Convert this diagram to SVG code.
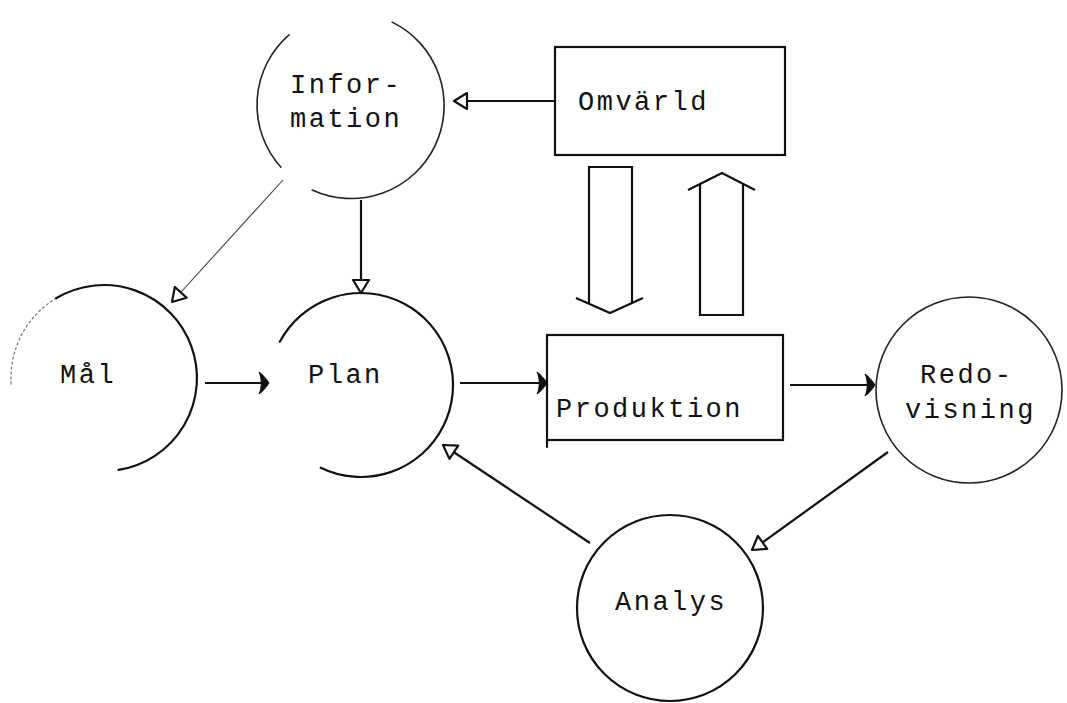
<svg xmlns="http://www.w3.org/2000/svg" width="1067" height="703" viewBox="0 0 1067 703">
  <style>
    .node { fill: none; stroke: #111; stroke-width: 2.2; stroke-linecap: round; }
    .thin { stroke-width: 1.6; stroke: #222; }
    .faint { fill: none; stroke: #777; stroke-width: 1.2; stroke-dasharray: 3 2; }
    .label { font-family: "Liberation Mono", "DejaVu Sans Mono", monospace; font-size: 27px; letter-spacing: 2.5px; fill: #111; }
    .edge { fill: none; stroke: #111; stroke-width: 2.2; }
    .edge-thin { fill: none; stroke: #444; stroke-width: 1.1; }
  </style>
  <defs>
    <!-- open triangular head, tip at the path end -->
    <marker id="open" viewBox="-16 -11 18 22" refX="0" refY="0" markerWidth="18" markerHeight="22" markerUnits="userSpaceOnUse" orient="auto">
      <path d="M0,0 L-13,-8 L-13,8 Z" fill="#fff" stroke="#111" stroke-width="2.2" stroke-linejoin="round"/>
    </marker>
    <!-- solid crescent head -->
    <marker id="solid" viewBox="-12 -14 14 28" refX="0" refY="0" markerWidth="14" markerHeight="28" markerUnits="userSpaceOnUse" orient="auto">
      <path d="M1,0 C-2,-5 -6,-9 -9,-11 C-6,-5 -6,5 -9,11 C-6,9 -2,5 1,0 Z" fill="#111" stroke="#111" stroke-width="1"/>
    </marker>
  </defs>

  <!-- Information -->
  <g id="information">
    <path class="node thin" d="M392.2,22.1 A93,93 0 0 1 312.2,190"/>
    <path class="node thin" d="M280.9,167.2 A93,93 0 0 1 289,34.8"/>
    <text class="label" x="290" y="93">Infor-</text>
    <text class="label" x="290" y="127">mation</text>
  </g>

  <!-- Omvärld -->
  <g id="omvarld">
    <rect class="node" x="555" y="47" width="230" height="108"/>
    <text class="label" x="578" y="110">Omvärld</text>
  </g>

  <!-- Mål -->
  <g id="mal">
    <path class="faint" d="M11.2,384.5 A93,93 0 0 1 56.1,298.3"/>
    <path class="node" d="M56.1,298.3 A93,93 0 1 1 118.5,469.9"/>
    <text class="label" x="60" y="383">Mål</text>
  </g>

  <!-- Plan -->
  <g id="plan">
    <path class="node" d="M279.8,341.8 A92,92 0 1 1 320.7,467.7"/>
    <text class="label" x="308" y="383">Plan</text>
  </g>

  <!-- Produktion -->
  <g id="produktion">
    <rect class="node" x="547" y="335" width="236" height="105"/>
    <line class="node" x1="547" y1="440" x2="547" y2="447"/>
    <text class="label" x="556" y="417">Produktion</text>
  </g>

  <!-- Redovisning -->
  <g id="redovisning">
    <circle class="node thin" cx="969" cy="390" r="93"/>
    <text class="label" x="920" y="383">Redo-</text>
    <text class="label" x="905" y="418">visning</text>
  </g>

  <!-- Analys -->
  <g id="analys">
    <circle class="node" cx="670" cy="608" r="93"/>
    <text class="label" x="615" y="610">Analys</text>
  </g>

  <!-- connectors -->
  <g id="connectors">
    <line class="edge" x1="555" y1="101" x2="454" y2="101" marker-end="url(#open)"/>
    <line class="edge" x1="361" y1="200" x2="361" y2="293" marker-end="url(#open)"/>
    <line class="edge-thin" x1="283" y1="180" x2="172" y2="302" marker-end="url(#open)"/>
    <line class="edge" x1="205" y1="383" x2="268" y2="383" marker-end="url(#solid)"/>
    <line class="edge" x1="460" y1="383" x2="546" y2="383" marker-end="url(#solid)"/>
    <line class="edge" x1="790" y1="385" x2="874" y2="385" marker-end="url(#solid)"/>
    <line class="edge" x1="888" y1="452" x2="752" y2="550" marker-end="url(#open)"/>
    <line class="edge" x1="590" y1="543" x2="443" y2="445" marker-end="url(#open)"/>
    <!-- hollow flow arrows between Omvärld and Produktion -->
    <path class="edge" d="M589,304 V167 H632 V303"/>
    <path class="edge" d="M576,298 L610,313 L643,298"/>
    <path class="edge" d="M700,184 V315 H743 V184"/>
    <path class="edge" d="M688,190 L722,173 L755,190"/>
  </g>
</svg>
